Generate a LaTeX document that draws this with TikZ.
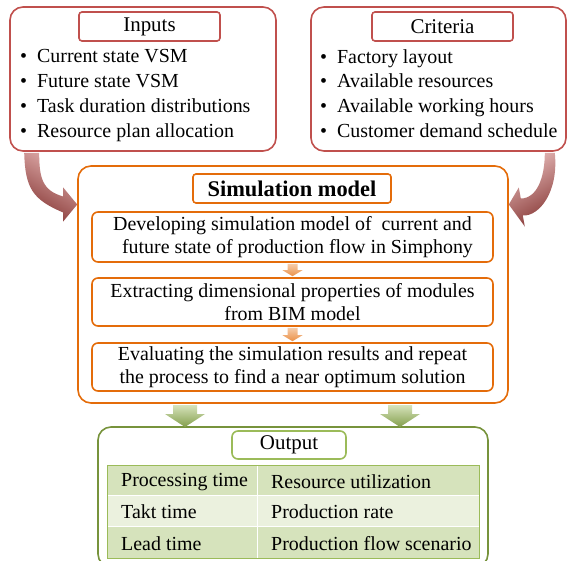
\documentclass[tikz,border=0pt]{standalone}
\usepackage{fontspec}
\setmainfont{Liberation Serif}
\usetikzlibrary{calc}

\definecolor{inred}{HTML}{C0504D}
\definecolor{simorange}{HTML}{E46C0A}
\definecolor{outgreen}{HTML}{77933C}
\definecolor{tabgreen}{HTML}{9BBB59}
\definecolor{rowdark}{HTML}{D6E3BC}
\definecolor{rowlight}{HTML}{EBF1DE}

\begin{document}
\begin{tikzpicture}[
    x=1bp, y=-1bp,
    font=\fontsize{20}{25}\selectfont,
    panel/.style={rectangle, draw, line width=1.6pt, rounded corners=13bp},
    titlebox/.style={rectangle, draw, line width=1.6pt, fill=white, rounded corners=3bp, minimum width=141bp, minimum height=29bp, inner sep=0pt, font=\fontsize{21}{25}\selectfont},
    stepbox/.style={rectangle, draw=simorange, line width=1.6pt, rounded corners=6bp, minimum width=401bp, align=center, inner sep=0pt, font=\fontsize{20}{23}\selectfont},
    listtext/.style={anchor=north west, align=left, inner sep=0pt},
    cell/.style={anchor=west, inner sep=0pt}
]
\useasboundingbox (0,0) rectangle (567,561);

% input and criteria panels
\node[panel, draw=inred, minimum width=266bp, minimum height=144bp] (inputs) at (143,79) {};
\node[titlebox, draw=inred] (inputstitle) at (149.5,26.5) {Inputs};
\node[listtext] (inputlist) at (20,49) {\textbullet\ \ Current state VSM\\ \textbullet\ \ Future state VSM\\ \textbullet\ \ Task duration distributions\\ \textbullet\ \ Resource plan allocation};

\node[panel, draw=inred, minimum width=255bp, minimum height=144bp] (criteria) at (438.5,79) {};
\node[titlebox, draw=inred] (criteriatitle) at (442.5,26.5) {Criteria};
\node[listtext] (criterialist) at (320,49) {\textbullet\ \ Factory layout\\ \textbullet\ \ Available resources\\ \textbullet\ \ Available working hours\\ \textbullet\ \ Customer demand schedule};

% simulation model
\node[panel, draw=simorange, minimum width=430bp, minimum height=237bp] (sim) at (293,284.5) {};
\node[titlebox, draw=simorange, minimum width=198bp, font=\fontsize{22.5}{25}\selectfont\bfseries] (simtitle) at (292,188.5) {Simulation model};
\node[stepbox, minimum height=50bp] (develop) at (292.5,237) {Developing simulation model of \ current and\\ \ \ future state of production flow in Simphony};
\node[stepbox, minimum height=48bp] (extract) at (292.5,302) {Extracting dimensional properties of modules\\ from BIM model};
\node[stepbox, minimum height=48bp] (evaluate) at (292.5,367) {Evaluating the simulation results and repeat\\ the process to find a near optimum solution};

% small arrows between steps
\foreach \a/\b in {develop/extract, extract/evaluate} {
  \path (\a.south) coordinate (t) (\b.north) coordinate (h);
  \shade[top color=simorange!35, bottom color=simorange!75]
    ($(t)+(-5,1)$) -- ($(h)+(-5,-7)$) -- ($(h)+(-10,-7)$) -- ($(h)+(0,-1)$)
    -- ($(h)+(10,-7)$) -- ($(h)+(5,-7)$) -- ($(t)+(5,1)$) -- cycle;
}

% output
\node[panel, draw=outgreen, minimum width=390bp, minimum height=140bp] (output) at (293,497) {};
\node[titlebox, draw=tabgreen, rounded corners=6bp, minimum width=114bp, minimum height=28bp] (outputtitle) at (289,445) {Output};

\fill[rowdark] (107,465) rectangle (479,495);
\fill[rowlight] (107,495) rectangle (479,526);
\fill[rowdark] (107,526) rectangle (479,558);
\draw[white, line width=1pt] (107,495) -- (479,495) (107,526) -- (479,526) (257,465) -- (257,558);
\draw[tabgreen, line width=1pt] (107,465) rectangle (479,558);

\node[cell] (proc) at (121,482) {Processing time};
\node[cell] (takt) at (121,512) {Takt time};
\node[cell] (lead) at (121,544) {Lead time};
\node[cell] (util) at (271,482) {Resource utilization};
\node[cell] (rate) at (271,512) {Production rate};
\node[cell] (flow) at (271,544) {Production flow scenario};

% green arrows from simulation model to output
\foreach \px in {185,400} {
  \shade[top color=rowdark, bottom color=tabgreen!85!black]
    (\px-12,405) -- (\px-12,414) -- (\px-20,414) -- (\px,427) -- (\px+20,414) -- (\px+12,414) -- (\px+12,405) -- cycle;
}

% curved arrows into simulation model
\coordinate (lstart) at ($(inputs.south west)+(16,1)$);
\coordinate (ltip) at ($(sim.west)+(0,-80)$);
\shade[top color=inred!45, bottom color=inred!70!black, shading angle=-30]
  ($(lstart)+(-1,0)$) .. controls ($(lstart)+(0,35)$) and ($(ltip)+(-45,-5)$) .. ($(ltip)+(-14,8)$)
  -- ($(ltip)+(-14,17)$) -- (ltip) -- ($(ltip)+(-14,-17)$) -- ($(ltip)+(-14,-8)$)
  .. controls ($(ltip)+(-35,-14)$) and ($(lstart)+(14,25)$) .. ($(lstart)+(14,0)$) -- cycle;

\coordinate (rstart) at ($(criteria.south east)+(-14,1)$);
\coordinate (rtip) at ($(sim.east)+(0,-80)$);
\shade[top color=inred!40, bottom color=inred!70!black, shading angle=30]
  ($(rstart)+(2,0)$) .. controls ($(rstart)+(6,40)$) and ($(rtip)+(30,12)$) .. ($(rtip)+(14,11)$)
  -- ($(rtip)+(16,22)$) -- (rtip) -- ($(rtip)+(10,-17)$) -- ($(rtip)+(12,-6)$)
  .. controls ($(rtip)+(28,-6)$) and ($(rstart)+(-8,25)$) .. ($(rstart)+(-8,0)$) -- cycle;
\end{tikzpicture}
\end{document}
